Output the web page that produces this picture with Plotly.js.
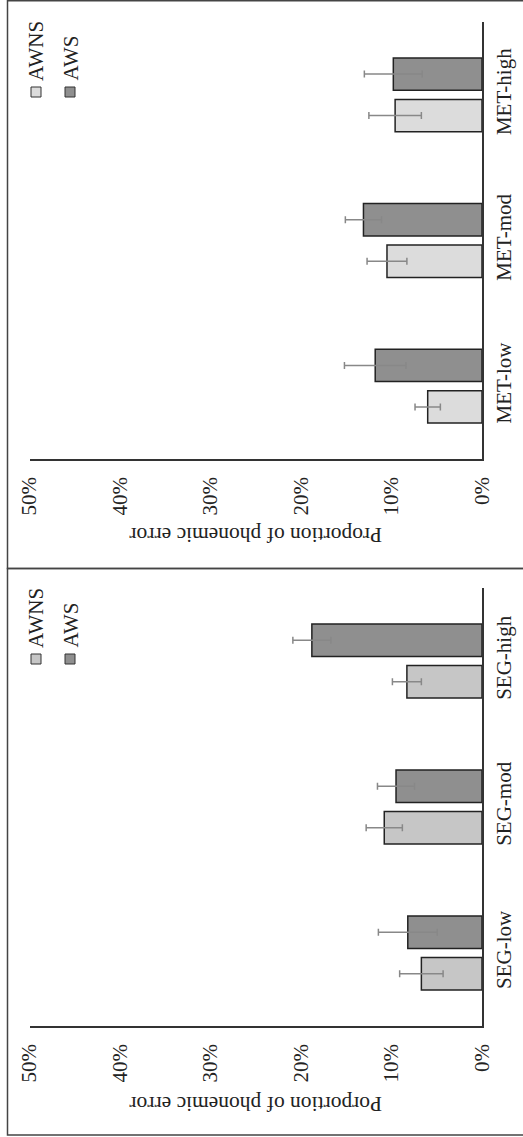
<!DOCTYPE html>
<html>
<head>
<meta charset="utf-8">
<script src="https://cdn.plot.ly/plotly-3.0.1.min.js"></script>
<style>html,body{margin:0;padding:0;background:#fff;}#chart{width:523px;height:1137px;}</style>
</head>
<body>
<div id="chart"></div>
<script>
// Data (values in percent)
const segCategories = ["SEG-low", "SEG-mod", "SEG-high"];
const metCategories = ["MET-low", "MET-mod", "MET-high"];
const seriesNames = ["AWNS", "AWS"];
const segAWNS = [6.7, 10.8, 8.3];
const segAWNSErr = [2.4, 2.0, 1.6];
const segAWS = [8.2, 9.5, 18.8];
const segAWSErr = [3.25, 2.05, 2.1];
const metAWNS = [6.0, 10.5, 9.6];
const metAWNSErr = [1.4, 2.2, 2.9];
const metAWS = [11.8, 13.1, 9.8];
const metAWSErr = [3.4, 2.0, 3.2];
const valueTicks = [0, 10, 20, 30, 40, 50];
const segTitle = "Porportion of phonemic error";
const metTitle = "Proportion of phonemic error";

const W = 523, H = 1137;
const px = v => v / W;
const py = v => 1 - v / H;
const FONT = "Liberation Serif, Times New Roman, serif";

const darkFill = "#8f8f8f";
const segLight = "#c6c6c6";
const metLight = "#dcdcdc";

function barTrace(name, cats, vals, errs, fill, xa, ya) {
  return {
    type: "bar", orientation: "h", name: name,
    y: cats, x: vals, xaxis: xa, yaxis: ya, showlegend: false,
    marker: {color: fill, line: {color: "#222", width: 1.5}},
    error_x: {type: "data", array: errs, visible: true, color: "#888", thickness: 1.5, width: 3.5}
  };
}

const data = [
  barTrace(seriesNames[0], metCategories, metAWNS, metAWNSErr, metLight, "x", "y"),
  barTrace(seriesNames[1], metCategories, metAWS, metAWSErr, darkFill, "x", "y"),
  barTrace(seriesNames[0], segCategories, segAWNS, segAWNSErr, segLight, "x2", "y2"),
  barTrace(seriesNames[1], segCategories, segAWS, segAWSErr, darkFill, "x2", "y2")
];

function valAxis(anchor, domain) {
  return {
    anchor: anchor, domain: domain, range: [50, 0],
    tickvals: valueTicks, ticktext: valueTicks.map(v => v + "%"),
    tickangle: -90, ticks: "", ticklabelstandoff: 8,
    showline: true, linecolor: "#333", linewidth: 1.5,
    showgrid: false, zeroline: false,
    tickfont: {family: FONT, size: 21, color: "#222"}
  };
}
function catAxis(anchor, domain) {
  return {
    anchor: anchor, domain: domain, side: "right",
    tickangle: -90, ticks: "", ticklabelstandoff: 2,
    showline: true, linecolor: "#333", linewidth: 1.5,
    showgrid: false, zeroline: false,
    tickfont: {family: FONT, size: 21, color: "#222"}
  };
}

const xDom = [px(29.5), px(482)];
const shapes = [
  {type: "rect", xref: "paper", yref: "paper", x0: px(7.5), x1: px(530), y0: py(568.5), y1: py(0.8), line: {color: "#444", width: 1.5}},
  {type: "rect", xref: "paper", yref: "paper", x0: px(7.5), x1: px(530), y0: py(1135), y1: py(568.5), line: {color: "#444", width: 1.5}}
];
const annotations = [
  {text: metTitle, xref: "paper", yref: "paper", x: px(256), y: py(535), textangle: 180, showarrow: false,
   xanchor: "center", yanchor: "middle", font: {family: FONT, size: 21.5, color: "#222"}},
  {text: segTitle, xref: "paper", yref: "paper", x: px(256), y: py(1104), textangle: 180, showarrow: false,
   xanchor: "center", yanchor: "middle", font: {family: FONT, size: 21.5, color: "#222"}}
];

// Manual legends (rotated text)
function addLegend(textBottom, sqTop, lightFill) {
  const fills = [lightFill, darkFill];
  const xs = [36, 70];
  seriesNames.forEach((n, i) => {
    shapes.push({type: "rect", xref: "paper", yref: "paper",
      x0: px(xs[i] - 5), x1: px(xs[i] + 5), y0: py(sqTop + 10), y1: py(sqTop),
      fillcolor: fills[i], line: {color: "#333", width: 1}});
    annotations.push({text: n, xref: "paper", yref: "paper", x: px(xs[i]), y: py(textBottom),
      textangle: -90, showarrow: false, xanchor: "center", yanchor: "bottom",
      font: {family: FONT, size: 21, color: "#222"}, borderpad: 0});
  });
}
addLegend(82, 87, metLight);
addLegend(649, 654, segLight);

const layout = {
  width: W, height: H,
  margin: {l: 0, r: 0, t: 0, b: 0},
  paper_bgcolor: "#fff", plot_bgcolor: "#fff",
  barmode: "group", bargap: 0.43, bargroupgap: 0.22,
  showlegend: false,
  xaxis: valAxis("y", xDom),
  yaxis: catAxis("x", [py(459), py(22)]),
  xaxis2: valAxis("y2", xDom),
  yaxis2: catAxis("x2", [py(1026), py(588)]),
  shapes: shapes,
  annotations: annotations
};

Plotly.newPlot("chart", data, layout, {displayModeBar: false, staticPlot: true});
</script>
</body>
</html>
